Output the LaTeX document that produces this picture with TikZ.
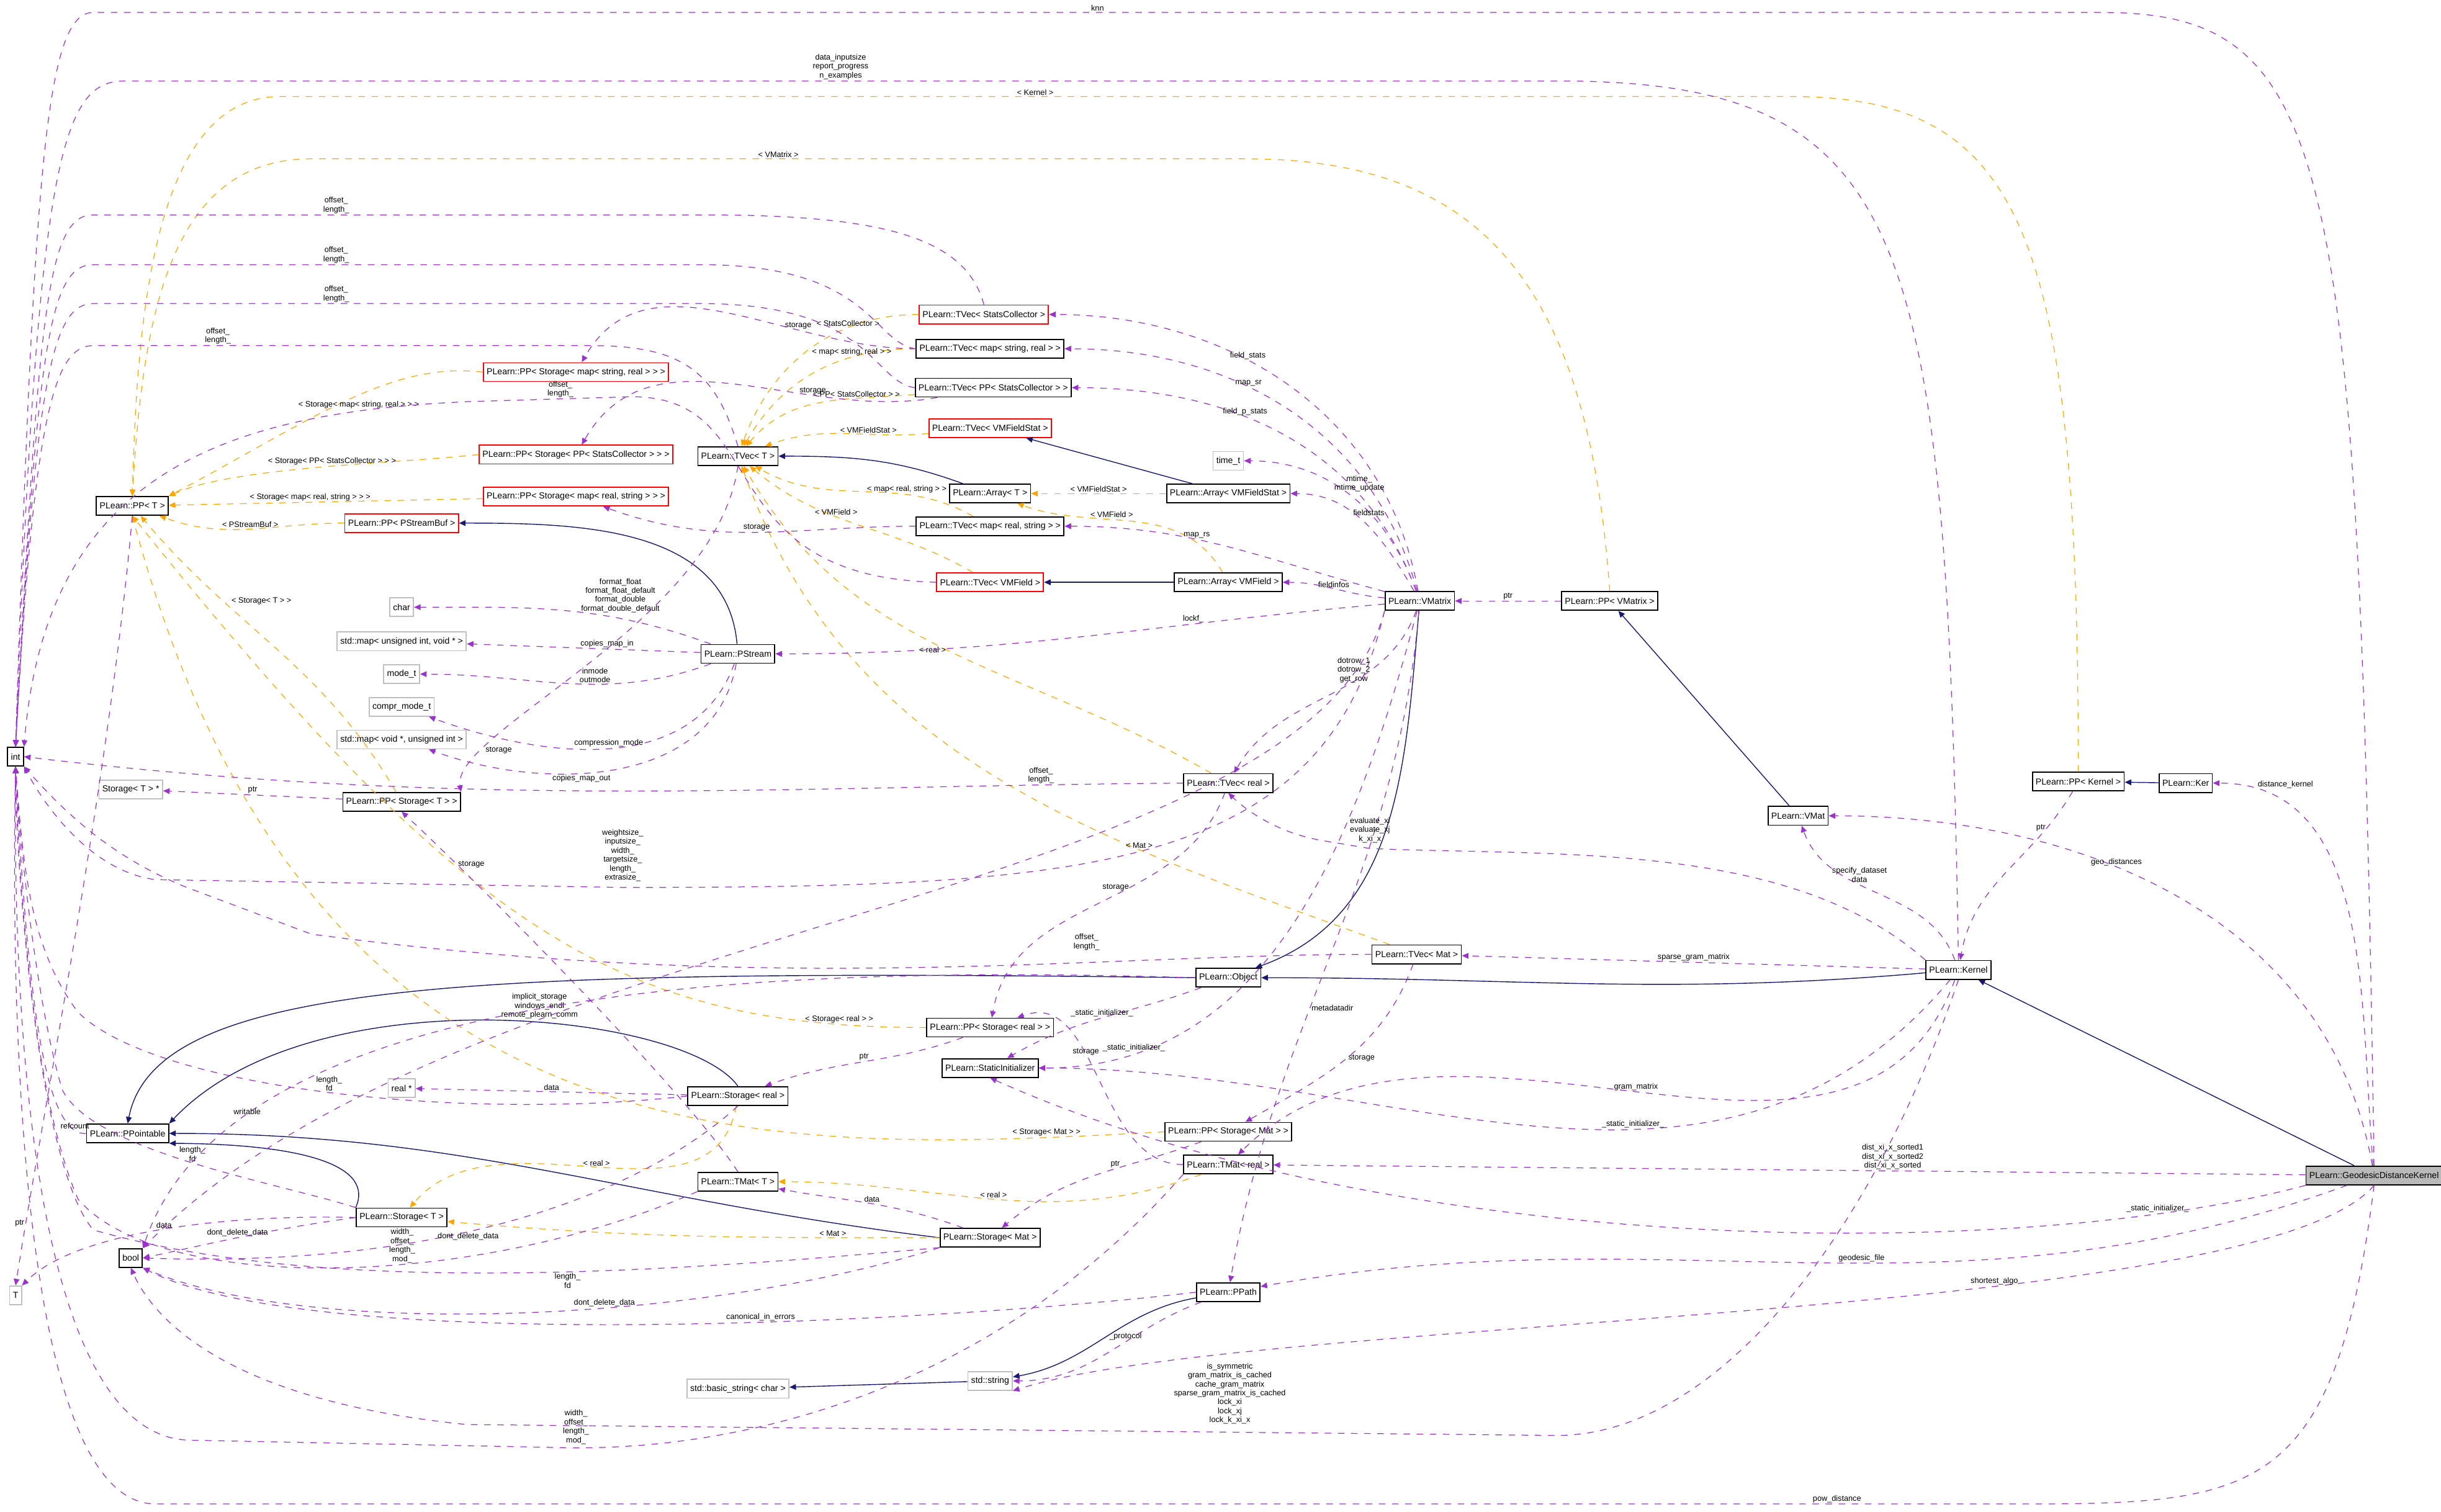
\documentclass[tikz,border=0pt]{standalone}
\usepackage{fontspec}
\setmainfont{Liberation Sans}
\usetikzlibrary{arrows.meta}
\definecolor{memc}{HTML}{9A32CD}
\definecolor{tplc}{HTML}{FFA500}
\definecolor{inhc}{HTML}{191970}
\tikzset{
  cls/.style={draw=black,line width=0.5pt,fill=white,font=\fontsize{4}{4.8}\selectfont,inner xsep=1.5pt,inner ysep=0pt,minimum height=0.3cm},
  redcls/.style={cls,draw=red},
  extcls/.style={cls,draw=gray!50},
  mem/.style={draw=memc,dashed,line width=0.35pt,-{Triangle[length=3pt,width=2.6pt]}},
  tpl/.style={draw=tplc,dashed,line width=0.35pt,-{Triangle[length=3pt,width=2.6pt]}},
  inh/.style={draw=inhc,line width=0.4pt,-{Triangle[length=3pt,width=2.6pt]}},
  lab/.style={font=\fontsize{3.6}{4.1}\selectfont,align=center,inner sep=0.5pt}
}
\begin{document}
\begin{tikzpicture}[x=0.025cm,y=-0.025cm]
\useasboundingbox (0,0) rectangle (1568,971);
% nodes
\node[cls] (int) at (10,486) {int};
\node[extcls] (T) at (10,832) {T};
\node[cls] (bool) at (84,808) {bool};
\node[cls] (ppointable) at (82,728) {PLearn::PPointable};
\node[cls] (ppt) at (85,325) {PLearn::PP< T >};
\node[redcls] (ppsmsr) at (370,239) {PLearn::PP< Storage< map< string, real > > >};
\node[redcls] (ppsppsc) at (370,292) {PLearn::PP< Storage< PP< StatsCollector > > >};
\node[redcls] (ppsmrs) at (370,319) {PLearn::PP< Storage< map< real, string > > >};
\node[redcls] (pppsb) at (258,336) {PLearn::PP< PStreamBuf >};
\node[extcls] (char) at (258,390) {char};
\node[extcls] (mapuiv) at (258,412) {std::map< unsigned int, void * >};
\node[extcls] (modet) at (258,433) {mode\_t};
\node[extcls] (comprt) at (258,454) {compr\_mode\_t};
\node[extcls] (mapvui) at (258,475) {std::map< void *, unsigned int >};
\node[extcls] (storptr) at (84,507) {Storage< T > *};
\node[cls] (ppst) at (258,515) {PLearn::PP< Storage< T > >};
\node[cls] (tvect) at (474,293) {PLearn::TVec< T >};
\node[cls] (pstream) at (474,420) {PLearn::PStream};
\node[redcls] (tvecsc) at (632,202) {PLearn::TVec< StatsCollector >};
\node[cls] (tvecmsr) at (636,224) {PLearn::TVec< map< string, real > >};
\node[cls] (tvecppsc) at (638,249) {PLearn::TVec< PP< StatsCollector > >};
\node[redcls] (tvecvmfs) at (636,275) {PLearn::TVec< VMFieldStat >};
\node[cls] (arrayt) at (636,317) {PLearn::Array< T >};
\node[cls] (tvecmrs) at (636,338) {PLearn::TVec< map< real, string > >};
\node[redcls] (tvecvmf) at (636,374) {PLearn::TVec< VMField >};
\node[extcls] (timet) at (789,296) {time\_t};
\node[cls] (arrayvmfs) at (789,317) {PLearn::Array< VMFieldStat >};
\node[cls] (arrayvmf) at (789,374) {PLearn::Array< VMField >};
\node[cls] (vmatrix) at (912,386) {PLearn::VMatrix};
\node[cls] (ppvmatrix) at (1034,386) {PLearn::PP< VMatrix >};
\node[cls] (tvecreal) at (789,503) {PLearn::TVec< real >};
\node[cls] (tvecmat) at (910,613) {PLearn::TVec< Mat >};
\node[cls] (object) at (789,628) {PLearn::Object};
\node[cls] (ppsreal) at (636,660) {PLearn::PP< Storage< real > >};
\node[cls] (statinit) at (636,686) {PLearn::StaticInitializer};
\node[cls] (storreal) at (474,704) {PLearn::Storage< real >};
\node[extcls] (realptr) at (258,699) {real *};
\node[cls] (stort) at (258,782) {PLearn::Storage< T >};
\node[cls] (tmatt) at (474,759) {PLearn::TMat< T >};
\node[cls] (ppsmat) at (789,727) {PLearn::PP< Storage< Mat > >};
\node[cls] (tmatreal) at (789,748) {PLearn::TMat< real >};
\node[cls] (stormat) at (636,795) {PLearn::Storage< Mat >};
\node[cls] (ppath) at (789,830) {PLearn::PPath};
\node[extcls] (string) at (636,887) {std::string};
\node[extcls] (bstring) at (474,892) {std::basic\_string< char >};
\node[cls] (vmat) at (1155,524) {PLearn::VMat};
\node[cls] (ppkernel) at (1335,502) {PLearn::PP< Kernel >};
\node[cls] (ker) at (1404,503) {PLearn::Ker};
\node[cls] (kernel) at (1258,623) {PLearn::Kernel};
\node[cls,fill=gray!55] (gdk) at (1525,755) {PLearn::GeodesicDistanceKernel};
% inheritance
\draw[inh] (arrayt) to[out=160,in=0] (tvect);
\draw[inh] (arrayvmfs) -- (tvecvmfs);
\draw[inh] (arrayvmf) -- (tvecvmf);
\draw[inh] (pstream) to[out=95,in=0] (pppsb);
\draw[inh] (object.west) .. controls (300,622) and (100,630) .. (ppointable.north);
\draw[inh] (storreal.north) .. controls (440,650) and (200,625) .. (ppointable.north east);
\draw[inh] (stort.north west) .. controls (240,750) and (200,735) .. (ppointable.south east);
\draw[inh] (stormat.west) .. controls (400,770) and (300,728) .. (ppointable.east);
\draw[inh] (vmatrix) to[out=265,in=20] (object);
\draw[inh] (kernel) to[out=185,in=0] (object.east);
\draw[inh] (vmat) -- (ppvmatrix);
\draw[inh] (ker) -- (ppkernel);
\draw[inh] (gdk) -- (kernel);
\draw[inh] (string) -- (bstring);
\draw[inh] (ppath) to[out=190,in=10] (string);
% templates
\draw[tpl] (ppsmsr.west) .. controls (250,232) and (200,270) .. node[lab,pos=0.45,below=2pt]{< Storage< map< string, real > > >} (ppt.north east);
\draw[tpl] (ppsppsc.west) .. controls (250,298) and (150,300) .. node[lab,pos=0.45,above]{< Storage< PP< StatsCollector > > >} (ppt.north east);
\draw[tpl] (ppsmrs) -- node[lab,pos=0.55,above]{< Storage< map< real, string > > >} (ppt);
\draw[tpl] (pppsb) to[out=180,in=-20] node[lab,above]{< PStreamBuf >} (ppt);
\draw[tpl] (ppst) to[out=120,in=-50] node[lab,pos=0.7,right=3pt]{< Storage< T > >} (ppt);
\draw[tpl] (ppsreal.west) .. controls (400,660) and (300,600) .. node[lab,pos=0.1,above]{< Storage< real > >} (ppt.south);
\draw[tpl] (ppsmat.west) .. controls (500,740) and (200,760) .. node[lab,pos=0.1,above]{< Storage< Mat > >} (ppt.south);
\draw[tpl] (ppvmatrix.north) .. controls (1020,180) and (950,102) .. (800,102) -- node[lab,above]{< VMatrix >} (200,102) .. controls (110,102) and (92,200) .. (ppt.north);
\draw[tpl] (ppkernel.north) .. controls (1335,150) and (1300,62) .. (1150,62) -- node[lab,above]{< Kernel >} (180,62) .. controls (100,62) and (88,200) .. (ppt.north);
\draw[tpl] (tvecsc) to[out=180,in=70] node[lab,pos=0.3,above]{< StatsCollector >} (tvect);
\draw[tpl] (tvecmsr) to[out=180,in=60] node[lab,pos=0.3,above]{< map< string, real > >} (tvect);
\draw[tpl] (tvecppsc) to[out=185,in=50] node[lab,pos=0.3,above]{< PP< StatsCollector > >} (tvect);
\draw[tpl] (tvecvmfs) to[out=185,in=20] node[lab,pos=0.35,above]{< VMFieldStat >} (tvect);
\draw[tpl] (tvecmrs) to[out=150,in=-30] node[lab,pos=0.3,above]{< map< real, string > >} (tvect);
\draw[tpl] (tvecvmf) to[out=150,in=-40] node[lab,pos=0.6,above]{< VMField >} (tvect);
\draw[tpl] (tvecreal) to[out=150,in=-60] node[lab,pos=0.5,left]{< real >} (tvect);
\draw[tpl] (tvecmat) to[out=160,in=-70] node[lab,pos=0.3,above]{< Mat >} (tvect);
\draw[tpl] (arrayvmfs) -- node[lab,above]{< VMFieldStat >} (arrayt);
\draw[tpl] (arrayvmf) to[out=120,in=-20] node[lab,pos=0.6,above]{< VMField >} (arrayt);
\draw[tpl] (storreal) to[out=260,in=50] node[lab,pos=0.5,above]{< real >} (stort);
\draw[tpl] (stormat) to[out=180,in=-5] node[lab,pos=0.2,above]{< Mat >} (stort);
\draw[tpl] (tmatreal) to[out=200,in=0] node[lab,pos=0.5,above]{< real >} (tmatt);
% members of PStream
\draw[mem] (pstream) to[out=160,in=0] node[lab,pos=0.3,above=2pt]{format\_float\\format\_float\_default\\format\_double\\format\_double\_default} (char);
\draw[mem] (pstream) -- node[lab,pos=0.4,above]{copies\_map\_in} (mapuiv);
\draw[mem] (pstream) to[out=200,in=0] node[lab,pos=0.4,above]{inmode\\outmode} (modet);
\draw[mem] (pstream) to[out=250,in=-20] node[lab,pos=0.5,above]{compression\_mode} (comprt);
\draw[mem] (pstream) to[out=260,in=-20] node[lab,pos=0.6,below]{copies\_map\_out} (mapvui);
% members to int
\draw[mem] (tvecsc.north) .. controls (620,150) and (560,138) .. (450,138) -- node[lab,pos=0.6,above]{offset\_\\length\_} (60,138) .. controls (30,138) and (25,200) .. (int.north);
\draw[mem] (tvecmsr.west) .. controls (560,220) and (560,170) .. (450,170) -- node[lab,pos=0.6,above]{offset\_\\length\_} (60,170) .. controls (32,170) and (24,220) .. (int.north);
\draw[mem] (tvecppsc.west) .. controls (560,245) and (560,195) .. (450,195) -- node[lab,pos=0.6,above]{offset\_\\length\_} (60,195) .. controls (34,195) and (23,240) .. (int.north);
\draw[mem] (tvect.north) .. controls (460,240) and (440,222) .. (380,222) -- node[lab,pos=0.75,above]{offset\_\\length\_} (60,222) .. controls (36,222) and (22,260) .. (int.north);
\draw[mem] (tvecvmf.west) .. controls (450,370) and (500,250) .. (400,255) -- node[lab,pos=0.4,above]{offset\_\\length\_} (300,258) .. controls (150,265) and (30,300) .. (int.north east);
\draw[mem] (tvecreal.west) .. controls (500,505) and (300,520) .. node[lab,pos=0.12,above]{offset\_\\length\_} (int.east);
\draw[mem] (tvecmat.west) .. controls (700,613) and (500,640) .. (200,600) -- (120,570) .. controls (70,550) and (40,520) .. (int.south east);
\node[lab] at (698,605) {offset\_\\length\_};
\draw[mem] (vmatrix.south west) .. controls (850,560) and (700,570) .. (400,570) -- node[lab,pos=0,above=2pt]{weightsize\_\\inputsize\_\\width\_\\targetsize\_\\length\_\\extrasize\_} (100,565) .. controls (60,560) and (30,520) .. (int.south east);
\draw[mem] (kernel.north) .. controls (1250,150) and (1230,52) .. (1000,52) -- node[lab,above]{data\_inputsize\\report\_progress\\n\_examples} (80,52) .. controls (40,52) and (24,100) .. (int.north);
\draw[mem] (gdk.north) .. controls (1515,100) and (1500,8) .. (1350,8) -- node[lab,above]{knn} (60,8) .. controls (30,8) and (22,100) .. (int.north);
\draw[mem] (storreal.west) .. controls (300,720) and (100,700) .. node[lab,pos=0.5,above]{length\_\\fd} (50,650) .. controls (20,610) and (15,560) .. (int.south);
\draw[mem] (stort.north west) .. controls (180,760) and (60,740) .. node[lab,pos=0.5,above]{length\_\\fd} (40,700) .. controls (25,650) and (14,560) .. (int.south);
\draw[mem] (ppointable.west) .. controls (30,730) and (18,650) .. node[lab,pos=0.1,above]{refcount} (int.south);
\draw[mem] (tmatt.south west) .. controls (300,830) and (100,830) .. node[lab,pos=0.4,above]{width\_\\offset\_\\length\_\\mod\_} (50,770) .. controls (20,700) and (12,560) .. (int.south);
\draw[mem] (stormat.south west) .. controls (400,820) and (200,830) .. node[lab,pos=0.4,below]{length\_\\fd} (60,790) .. controls (25,750) and (10,560) .. (int.south);
\draw[mem] (tmatreal.south west) .. controls (650,880) and (500,930) .. (370,930) -- node[lab,pos=0,above=1pt]{width\_\\offset\_\\length\_\\mod\_} (120,925) .. controls (30,920) and (8,700) .. (int.south);
\draw[mem] (gdk.south) .. controls (1500,960) and (1450,966) .. (1300,966) -- node[lab,pos=0.1,above]{pow\_distance} (100,966) .. controls (20,966) and (6,700) .. (int.south);
\draw[mem] (stort.west) .. controls (150,780) and (50,790) .. node[lab,pos=0.5,above]{data} (T.north east);
\draw[mem] (ppt.south) .. controls (70,500) and (30,700) .. node[lab,pos=0.9,left]{ptr} (T.north);
% members to bool
\draw[mem] (vmatrix.south west) .. controls (840,580) and (300,590) .. node[lab,pos=0.7,above]{implicit\_storage\\windows\_endl\\remote\_plearn\_comm} (bool.north east);
\draw[mem] (stort.west) .. controls (170,790) and (130,800) .. node[lab,pos=0.5,above]{dont\_delete\_data} (bool.east);
\draw[mem] (storreal.south) .. controls (420,760) and (300,815) .. node[lab,pos=0.6,below]{dont\_delete\_data} (bool.east);
\draw[mem] (stormat.south west) .. controls (450,850) and (200,860) .. node[lab,pos=0.4,above]{dont\_delete\_data} (bool.south east);
\draw[mem] (ppath.west) .. controls (600,850) and (200,870) .. node[lab,pos=0.4,above]{canonical\_in\_errors} (bool.south east);
\draw[mem] (object.west) .. controls (500,620) and (150,630) .. node[lab,pos=0.8,above]{writable} (bool.north east);
\draw[mem] (kernel.south) .. controls (1200,800) and (1100,922) .. (1000,922) -- node[lab,pos=0.3,above=3pt]{is\_symmetric\\gram\_matrix\_is\_cached\\cache\_gram\_matrix\\sparse\_gram\_matrix\_is\_cached\\lock\_xi\\lock\_xj\\lock\_k\_xi\_x} (300,915) .. controls (150,900) and (100,850) .. (bool.south);
% storage members
\draw[mem] (tvecmsr) to[out=180,in=60] node[lab,pos=0.3,above]{storage} (ppsmsr);
\draw[mem] (tvecppsc) to[out=190,in=60] node[lab,pos=0.3,above]{storage} (ppsppsc);
\draw[mem] (tvecmrs) to[out=180,in=-20] node[lab,pos=0.5,above]{storage} (ppsmrs);
\draw[mem] (tvect.south) .. controls (460,400) and (290,470) .. node[lab,pos=0.8,right]{storage} (ppst.north east);
\draw[mem] (tmatt.north) .. controls (440,700) and (300,560) .. node[lab,pos=0.8,right]{storage} (ppst.south);
\draw[mem] (ppst) -- node[lab,above]{ptr} (storptr);
\draw[mem] (tvecreal) to[out=250,in=80] node[lab,pos=0.4,left]{storage} (ppsreal);
\draw[mem] (tmatreal) to[out=180,in=20] node[lab,pos=0.6,above]{storage} (ppsreal);
\draw[mem] (tvecmat) to[out=250,in=30] node[lab,pos=0.5,right]{storage} (ppsmat);
\draw[mem] (ppsreal) to[out=200,in=20] node[lab,pos=0.5,above]{ptr} (storreal);
\draw[mem] (ppsmat) to[out=200,in=40] node[lab,pos=0.4,above]{ptr} (stormat);
\draw[mem] (storreal) -- node[lab,above]{data} (realptr);
\draw[mem] (stormat) to[out=160,in=-10] node[lab,above]{data} (tmatt);
% VMatrix members
\draw[mem] (vmatrix) to[out=100,in=0] node[lab,pos=0.6,above]{field\_stats} (tvecsc);
\draw[mem] (vmatrix) to[out=105,in=0] node[lab,pos=0.6,above]{map\_sr} (tvecmsr);
\draw[mem] (vmatrix) to[out=110,in=0] node[lab,pos=0.6,above]{field\_p\_stats} (tvecppsc);
\draw[mem] (vmatrix) to[out=110,in=0] node[lab,pos=0.6,right]{mtime\_\\mtime\_update} (timet);
\draw[mem] (vmatrix) to[out=120,in=0] node[lab,pos=0.6,right]{fieldstats} (arrayvmfs);
\draw[mem] (vmatrix) to[out=165,in=0] node[lab,pos=0.6,above]{map\_rs} (tvecmrs);
\draw[mem] (vmatrix) to[out=175,in=0] node[lab,pos=0.5,above]{fieldinfos} (arrayvmf);
\draw[mem] (vmatrix) to[out=185,in=0] node[lab,pos=0.3,above]{lockf\_} (pstream);
\draw[mem] (vmatrix) to[out=250,in=60] node[lab,pos=0.3,left]{dotrow\_1\\dotrow\_2\\get\_row} (tvecreal);
\draw[mem] (vmatrix) to[out=265,in=80] node[lab,pos=0.6,right]{metadatadir} (ppath);
\draw[mem] (vmatrix) to[out=255,in=0] node[lab,pos=0.85,above]{\_static\_initializer\_} (statinit);
\draw[mem] (object) to[out=200,in=30] node[lab,pos=0.5,above]{\_static\_initializer\_} (statinit);
\draw[mem] (ppvmatrix) -- node[lab,above]{ptr} (vmatrix);
\draw[mem] (ppath) to[out=200,in=0] node[lab,pos=0.4,above]{\_protocol} (string);
% Kernel members
\draw[mem] (kernel.north west) .. controls (1150,540) and (1000,550) .. (880,545) -- node[lab,pos=0,above=2pt]{evaluate\_xi\\evaluate\_xj\\k\_xi\_x} (850,540) .. controls (820,535) and (800,520) .. (tvecreal.south);
\draw[mem] (kernel) -- node[lab,above]{sparse\_gram\_matrix} (tvecmat);
\draw[mem] (kernel) to[out=230,in=0] node[lab,pos=0.4,above]{\_static\_initializer\_} (statinit);
\draw[mem] (kernel) to[out=250,in=45] node[lab,pos=0.5,above]{gram\_matrix} (tmatreal);
\draw[mem] (kernel) to[out=110,in=-70] node[lab,pos=0.6,above]{specify\_dataset\\data} (vmat);
\draw[mem] (ppkernel) to[out=240,in=80] node[lab,pos=0.2,left]{ptr} (kernel);
% GeodesicDistanceKernel members
\draw[mem] (gdk) to[out=95,in=0] node[lab,pos=0.9,above right]{distance\_kernel} (ker);
\draw[mem] (gdk) to[out=100,in=0] node[lab,pos=0.6,above]{geo\_distances} (vmat);
\draw[mem] (gdk) -- node[lab,pos=0.4,above]{dist\_xi\_x\_sorted1\\dist\_xi\_x\_sorted2\\dist\_xi\_x\_sorted} (tmatreal);
\draw[mem] (gdk) to[out=200,in=10] node[lab,pos=0.45,above]{geodesic\_file} (ppath);
\draw[mem] (gdk.south west) .. controls (1300,810) and (900,810) .. node[lab,pos=0.15,above]{\_static\_initializer\_} (statinit.south);
\draw[mem] (gdk.south) .. controls (1450,850) and (800,845) .. node[lab,pos=0.35,above]{shortest\_algo} (string.south east);
\end{tikzpicture}
\end{document}
